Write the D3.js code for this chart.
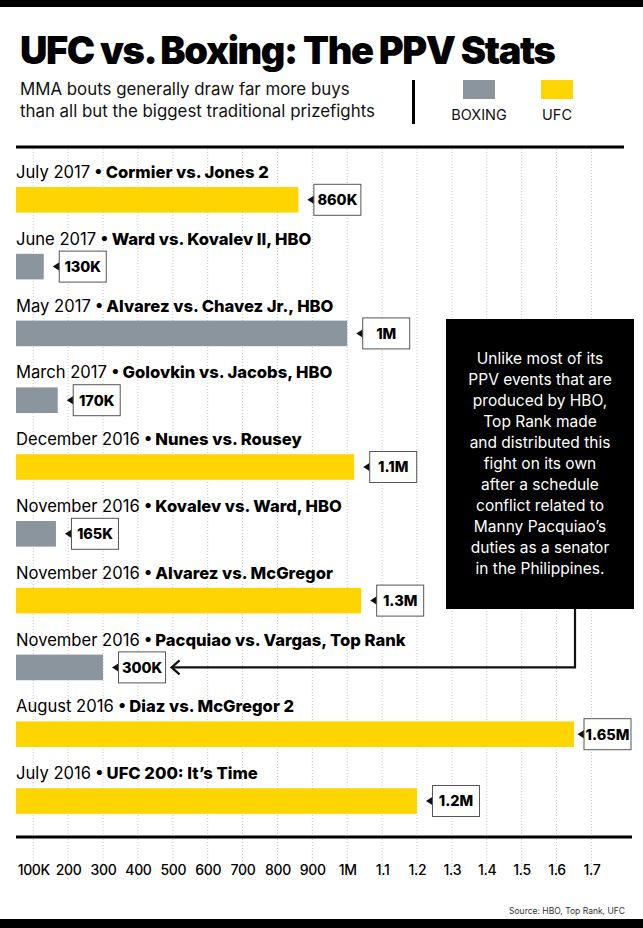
<!DOCTYPE html>
<html><head><meta charset="utf-8">
<script src="https://cdn.jsdelivr.net/npm/d3@7"></script>
<style>
body{margin:0;background:#fff}
svg{display:block}
text{font-family:Inter,"Noto Sans",Roboto,sans-serif}
</style>
</head><body>
<svg id="chart" width="643" height="928"></svg>
<script>
// ---------- DATA ----------
const dates = ["July 2017","June 2017","May 2017","March 2017","December 2016","November 2016","November 2016","November 2016","August 2016","July 2016"];
const fights = ["Cormier vs. Jones 2","Ward vs. Kovalev II, HBO","Alvarez vs. Chavez Jr., HBO","Golovkin vs. Jacobs, HBO","Nunes vs. Rousey","Kovalev vs. Ward, HBO","Alvarez vs. McGregor","Pacquiao vs. Vargas, Top Rank","Diaz vs. McGregor 2","UFC 200: It’s Time"];
const sports = ["UFC","Boxing","Boxing","Boxing","UFC","Boxing","UFC","Boxing","UFC","UFC"];
// bar lengths as drawn in the reference
const buys = [860000,130000,1000000,170000,1020000,165000,1040000,300000,1650000,1200000];
const buyLabels = ["860K","130K","1M","170K","1.1M","165K","1.3M","300K","1.65M","1.2M"];
const tickValues = [100000,200000,300000,400000,500000,600000,700000,800000,900000,1000000,1100000,1200000,1300000,1400000,1500000,1600000,1700000];
const tickLabels = ["100K","200","300","400","500","600","700","800","900","1M","1.1","1.2","1.3","1.4","1.5","1.6","1.7"];
const legendKeys = ["BOXING","UFC"];
const noteLines = ["Unlike most of its","PPV events that are","produced by HBO,","Top Rank made","and distributed this","fight on its own","after a schedule","conflict related to","Manny Pacquiao’s","duties as a senator","in the Philippines."];
const noteRow = 7;

// ---------- STYLE ----------
const colors = {UFC:"#ffd500", Boxing:"#8a959e", BOXING:"#8a959e"};
const W = 643, H = 928;
const plotLeft = 16;

const svg = d3.select("#chart");
svg.append("rect").attr("width",W).attr("height",H).attr("fill","#fff");

// top & bottom black bands
svg.append("rect").attr("x",0).attr("y",0).attr("width",W).attr("height",7).attr("fill","#000");
svg.append("rect").attr("x",0).attr("y",919).attr("width",W).attr("height",9).attr("fill","#000");

// title
svg.append("text").attr("x",20).attr("y",64)
  .attr("font-size",38).attr("font-weight",900).attr("letter-spacing",-1.4)
  .attr("fill","#000").text("UFC vs. Boxing: The PPV Stats");

// subtitle
const sub = ["MMA bouts generally draw far more buys","than all but the biggest traditional prizefights"];
svg.selectAll("text.sub").data(sub).join("text").attr("class","sub")
  .attr("x",20).attr("y",(d,i)=>95+i*22)
  .attr("font-size",16.85).attr("fill","#111").text(d=>d);

// separator
svg.append("rect").attr("x",412).attr("y",80).attr("width",3).attr("height",44).attr("fill","#000");

// legend
const legX = d3.scalePoint().domain(legendKeys).range([479,557]);
const lg = svg.selectAll("g.leg").data(legendKeys).join("g").attr("class","leg")
  .attr("transform",d=>`translate(${legX(d)},0)`);
lg.append("rect").attr("x",-16).attr("y",80).attr("width",32).attr("height",19).attr("fill",d=>colors[d]);
lg.append("text").attr("y",120).attr("text-anchor","middle").attr("font-size",14.5).attr("fill","#111").text(d=>d);

// header rule
svg.append("rect").attr("x",16).attr("y",145.5).attr("width",608).attr("height",3).attr("fill","#000");

// scales
const x = d3.scaleLinear().domain([0,1700000]).range([-1.6,591.4]);
const y = d3.scaleBand().domain(d3.range(dates.length)).range([163,163+66.8*dates.length]).paddingInner(0).paddingOuter(0);
const barH = 25.6;

// grid
svg.append("g").selectAll("line").data(tickValues).join("line")
  .attr("x1",d=>x(d)).attr("x2",d=>x(d)).attr("y1",149).attr("y2",880)
  .attr("stroke","#c9c9c9").attr("stroke-width",1).attr("stroke-dasharray","1,2");

// rows
const rows = svg.selectAll("g.row").data(dates.map((d,i)=>i)).join("g").attr("class","row")
  .attr("transform",i=>`translate(0,${y(i)})`);

const lbl = rows.append("text").attr("x",plotLeft).attr("y",15).attr("font-size",16.6).attr("fill","#000");
lbl.append("tspan").attr("font-weight",400).text(i=>dates[i]+" ");
lbl.append("tspan").attr("font-weight",800).text(i=>"• "+fights[i]);

rows.append("rect").attr("x",plotLeft).attr("y",24)
  .attr("width",i=>x(buys[i])-plotLeft).attr("height",barH)
  .attr("fill",i=>colors[sports[i]]);

const boxW = 47, boxH = 31, rightLimit = 631;
const tipX = i => { const e = x(buys[i]); return e + Math.min(9, rightLimit - boxW - 6.5 - e); };
const cy = 24 + barH/2;
rows.append("path")
  .attr("d",i=>{const t=tipX(i);return `M${t},${cy}L${t+7},${cy-4.5}L${t+7},${cy+4.5}Z`;})
  .attr("fill","#111");
rows.append("rect").attr("x",i=>tipX(i)+6.5).attr("y",cy-boxH/2).attr("width",boxW).attr("height",boxH)
  .attr("fill","#fff").attr("stroke","#555").attr("stroke-width",1);
rows.append("text").attr("x",i=>tipX(i)+6.5+boxW/2).attr("y",cy+5.5).attr("text-anchor","middle")
  .attr("font-size",14.5).attr("font-weight",800).attr("fill","#000").text(i=>buyLabels[i]);

// axis
svg.append("rect").attr("x",16).attr("y",835.5).attr("width",616).attr("height",3).attr("fill","#000");
const axis = d3.axisBottom(x).tickValues(tickValues).tickFormat((d,i)=>tickLabels[i]).tickSize(0);
const ax = svg.append("g").attr("transform","translate(0,837)").call(axis);
ax.select(".domain").remove();
ax.selectAll("text").attr("y",38).attr("dy",0).attr("font-size",14).attr("font-weight",500)
  .attr("letter-spacing",-0.3)
  .attr("fill","#000").style("font-family","Inter, 'Noto Sans', sans-serif");

// source
svg.append("text").attr("x",625).attr("y",914).attr("text-anchor","end").attr("font-size",8.5)
  .attr("fill","#333").text("Source: HBO, Top Rank, UFC");

// annotation
const note = svg.append("g");
note.append("rect").attr("x",446).attr("y",319).attr("width",188).attr("height",290).attr("fill","#000");
note.selectAll("text").data(noteLines).join("text")
  .attr("x",540).attr("y",(d,i)=>364+i*21).attr("text-anchor","middle")
  .attr("font-size",15.5).attr("fill","#fff").text(d=>d);
// connector to the noted row
const arrowY = y(noteRow)+cy;
const arrowTip = tipX(noteRow)+6.5+boxW+6;
note.append("path").attr("d",`M575,609V${arrowY}H${arrowTip}`).attr("fill","none").attr("stroke","#111").attr("stroke-width",2.2);
note.append("path").attr("d",`M${arrowTip+8},${arrowY-7}L${arrowTip},${arrowY}L${arrowTip+8},${arrowY+7}`)
  .attr("fill","none").attr("stroke","#111").attr("stroke-width",2.2);
</script>
</body></html>
